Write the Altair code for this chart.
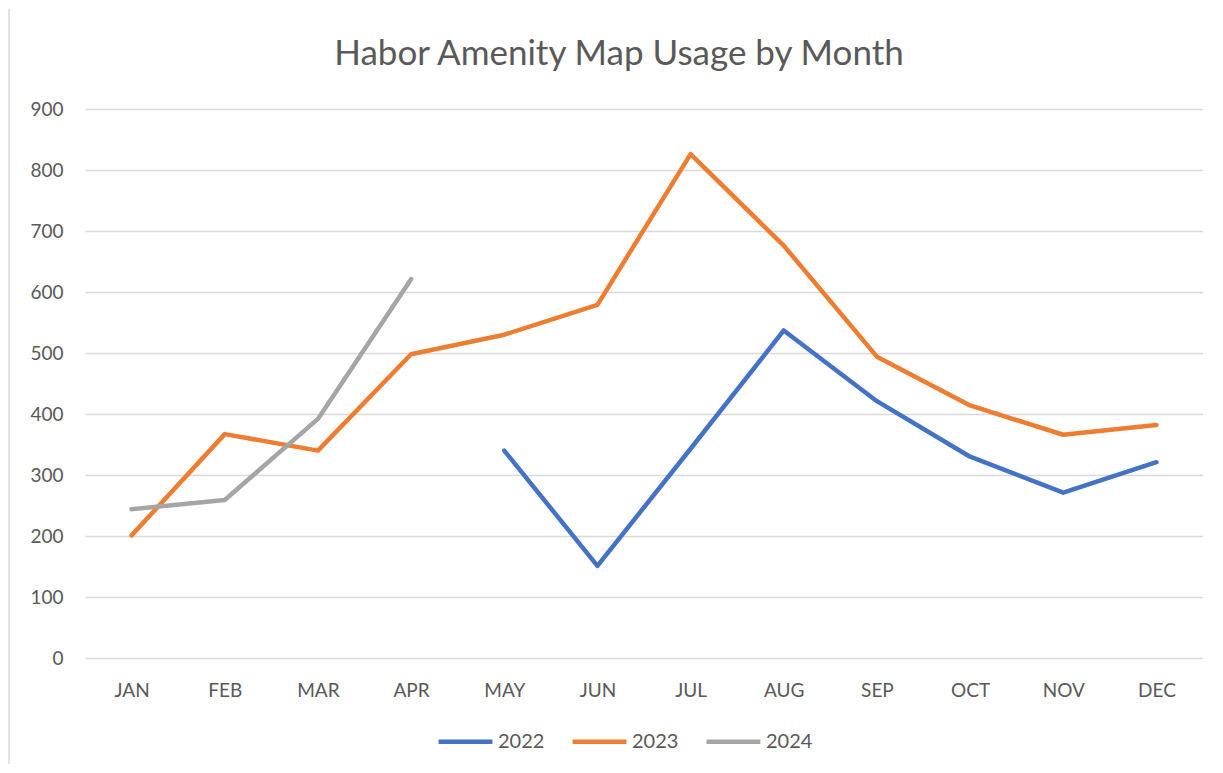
import altair as alt
import pandas as pd

months = ["JAN", "FEB", "MAR", "APR", "MAY", "JUN", "JUL", "AUG", "SEP", "OCT", "NOV", "DEC"]
v2022 = [None, None, None, None, 340, 151, 343, 537, 421, 330, 271, 321]
v2023 = [201, 367, 340, 498, 530, 579, 826, 676, 494, 414, 366, 382]
v2024 = [244, 259, 392, 621, None, None, None, None, None, None, None, None]
years = ["2022", "2023", "2024"]
colors = ["#4472C4", "#ED7D31", "#A5A5A5"]
title_text = "Habor Amenity Map Usage by Month"

rows = []
for yr, vals in zip(years, [v2022, v2023, v2024]):
    for m, v in zip(months, vals):
        if v is not None:
            rows.append({"month": m, "year": yr, "value": v})
df = pd.DataFrame(rows)

FONT = "Lato"
GRAY = "#595959"

lines = alt.Chart(df).mark_line(strokeWidth=4.5, strokeCap="round", strokeJoin="round").encode(
    x=alt.X("month:N", sort=months, scale=alt.Scale(domain=months, paddingInner=1, paddingOuter=0.5),
            axis=alt.Axis(title=None, labelAngle=0, labelPadding=23, labelFontSize=19, labelColor=GRAY,
                          ticks=False, domain=False, labelFont=FONT)),
    y=alt.Y("value:Q", scale=alt.Scale(domain=[0, 900]),
            axis=alt.Axis(title=None, values=list(range(0, 1000, 100)), labelPadding=22, labelFontSize=19,
                          labelColor=GRAY, ticks=False, domain=False, gridColor="#D9D9D9", gridWidth=1.5,
                          labelFont=FONT)),
    color=alt.Color("year:N", scale=alt.Scale(domain=years, range=colors),
                    legend=alt.Legend(title=None, orient="none", legendX=351, legendY=603, direction="horizontal",
                                      symbolType="stroke", symbolSize=2900, symbolStrokeWidth=4.5,
                                      labelFontSize=20, labelColor=GRAY, labelFont=FONT, columnPadding=18,
                                      labelOffset=3)),
)

border = alt.Chart(pd.DataFrame({"a": [0]})).mark_rule(color="#D9D9D9", strokeWidth=1.5).encode(
    x=alt.value(-76), y=alt.value(-100), y2=alt.value(655)
)

title = alt.Chart(pd.DataFrame({"t": [title_text]})).mark_text(
    font=FONT, fontSize=35, color=GRAY, align="center", baseline="middle"
).encode(x=alt.value(534), y=alt.value(-55), text="t:N")

chart = alt.layer(border, lines, title).properties(
    width=1118, height=549,
    padding=0,
).configure_view(stroke=None)

chart.save("out.html", embed_options={"renderer": "svg", "actions": False})
